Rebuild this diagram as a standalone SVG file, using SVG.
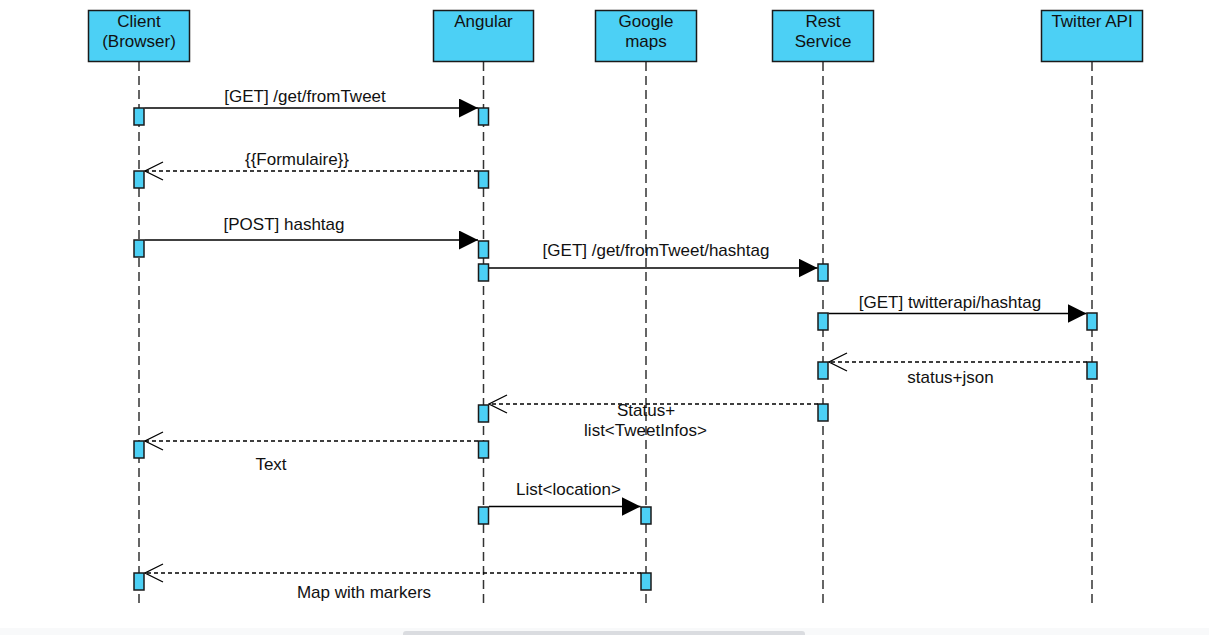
<svg xmlns="http://www.w3.org/2000/svg" width="1209" height="635" viewBox="0 0 1209 635">
<style>
.head{fill:#4cd0f5;stroke:#1a1a1a;stroke-width:1.5}
.act{fill:#4cd0f5;stroke:#1a1a1a;stroke-width:1.5}
.life{stroke:#333;stroke-width:1.5;stroke-dasharray:9 5;fill:none}
.msg{stroke:#000;stroke-width:1.3;fill:none}
.ret{stroke:#000;stroke-width:1.3;fill:none;stroke-dasharray:4 3}
.t{font-family:"Liberation Sans",Arial,sans-serif;font-size:17px;fill:#111;text-anchor:middle}
</style>
<defs>
<marker id="solid" viewBox="0 0 19 19" refX="19" refY="9.5" markerWidth="19" markerHeight="19" markerUnits="userSpaceOnUse" orient="auto">
<path d="M0,0 L19,9.5 L0,19 Z" fill="#000"/>
</marker>
<marker id="open" viewBox="0 0 20 20" refX="19" refY="10" markerWidth="20" markerHeight="20" markerUnits="userSpaceOnUse" orient="auto">
<path d="M1,1 L19,10 L1,19" fill="none" stroke="#000" stroke-width="1.3"/>
</marker>
</defs>
<rect width="1209" height="635" fill="#fff"/>
<rect x="0" y="628" width="1209" height="7" fill="#f8f9fa"/>
<rect x="403" y="631" width="402" height="6" rx="3" fill="#dadce0"/>

<g id="lifelines">
<line class="life" x1="139" y1="62" x2="139" y2="606"/>
<line class="life" x1="483.5" y1="62" x2="483.5" y2="606"/>
<line class="life" x1="646" y1="62" x2="646" y2="606"/>
<line class="life" x1="823" y1="62" x2="823" y2="606"/>
<line class="life" x1="1092" y1="62" x2="1092" y2="606"/>
</g>

<g id="client">
<rect class="head" x="88.5" y="10.5" width="101" height="51"/>
<text class="t" x="139" y="27">Client</text>
<text class="t" x="139" y="47">(Browser)</text>
<rect class="act" x="134" y="108" width="10" height="17"/>
<rect class="act" x="134" y="171" width="10" height="17"/>
<rect class="act" x="134" y="240" width="10" height="17"/>
<rect class="act" x="134" y="441" width="10" height="17"/>
<rect class="act" x="134" y="573" width="10" height="17"/>
</g>

<g id="angular">
<rect class="head" x="433.5" y="10.5" width="100" height="51"/>
<text class="t" x="483.5" y="27">Angular</text>
<rect class="act" x="478.5" y="108" width="10" height="17"/>
<rect class="act" x="478.5" y="171" width="10" height="17"/>
<rect class="act" x="478.5" y="241" width="10" height="17"/>
<rect class="act" x="478.5" y="264" width="10" height="17"/>
<rect class="act" x="478.5" y="405" width="10" height="17"/>
<rect class="act" x="478.5" y="441" width="10" height="17"/>
<rect class="act" x="478.5" y="507" width="10" height="17"/>
</g>

<g id="googlemaps">
<rect class="head" x="595.5" y="10.5" width="101" height="51"/>
<text class="t" x="646" y="27">Google</text>
<text class="t" x="646" y="47">maps</text>
<rect class="act" x="641" y="507" width="10" height="17"/>
<rect class="act" x="641" y="573" width="10" height="17"/>
</g>

<g id="rest">
<rect class="head" x="772.5" y="10.5" width="101" height="51"/>
<text class="t" x="823" y="27">Rest</text>
<text class="t" x="823" y="47">Service</text>
<rect class="act" x="818" y="264" width="10" height="17"/>
<rect class="act" x="818" y="313" width="10" height="17"/>
<rect class="act" x="818" y="362" width="10" height="17"/>
<rect class="act" x="818" y="404" width="10" height="17"/>
</g>

<g id="twitter">
<rect class="head" x="1041.5" y="10.5" width="101" height="51"/>
<text class="t" x="1092" y="27">Twitter API</text>
<rect class="act" x="1087" y="313" width="10" height="17"/>
<rect class="act" x="1087" y="362" width="10" height="17"/>
</g>

<g id="connectors">
<line class="msg" x1="144.5" y1="108" x2="478" y2="108" marker-end="url(#solid)"/>
<text class="t" x="305" y="102">[GET] /get/fromTweet</text>

<line class="ret" x1="478" y1="171" x2="145" y2="171" marker-end="url(#open)"/>
<text class="t" x="297" y="165">{{Formulaire}}</text>

<line class="msg" x1="144.5" y1="240" x2="478" y2="240" marker-end="url(#solid)"/>
<text class="t" x="284" y="230">[POST] hashtag</text>

<line class="msg" x1="489" y1="268" x2="817.5" y2="268" marker-end="url(#solid)"/>
<text class="t" x="656" y="256">[GET] /get/fromTweet/hashtag</text>

<line class="msg" x1="828.5" y1="313.5" x2="1086.5" y2="313.5" marker-end="url(#solid)"/>
<text class="t" x="950" y="308">[GET] twitterapi/hashtag</text>

<line class="ret" x1="1087" y1="362" x2="829" y2="362" marker-end="url(#open)"/>
<text class="t" x="950.5" y="383">status+json</text>

<line class="ret" x1="818" y1="404" x2="489" y2="404" marker-end="url(#open)"/>
<text class="t" x="646" y="416">Status+</text>
<text class="t" x="645.5" y="436">list&lt;TweetInfos&gt;</text>

<line class="ret" x1="478" y1="441" x2="145" y2="441" marker-end="url(#open)"/>
<text class="t" x="271" y="470">Text</text>

<line class="msg" x1="489" y1="506.5" x2="640.5" y2="506.5" marker-end="url(#solid)"/>
<text class="t" x="568.5" y="495">List&lt;location&gt;</text>

<line class="ret" x1="641" y1="573" x2="145" y2="573" marker-end="url(#open)"/>
<text class="t" x="364" y="598">Map with markers</text>
</g>
</svg>
